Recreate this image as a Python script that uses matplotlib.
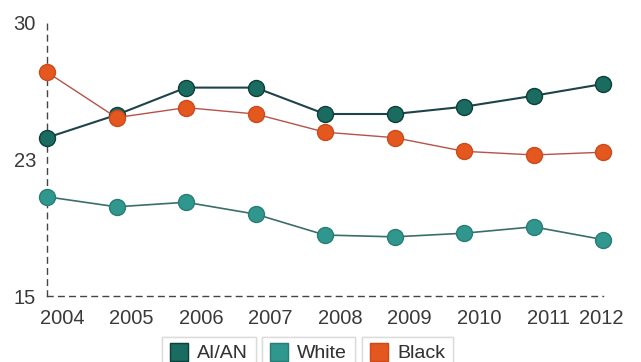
import matplotlib
matplotlib.use("Agg")
import matplotlib.pyplot as plt
import matplotlib.transforms as mtransforms
from matplotlib.lines import Line2D

years = [2004, 2005, 2006, 2007, 2008, 2009, 2010, 2011, 2012]
aian = [23.7, 24.95, 26.45, 26.45, 25.0, 25.0, 25.4, 26.0, 26.65]
white = [20.45, 19.9, 20.15, 19.5, 18.35, 18.25, 18.45, 18.8, 18.1]
black = [27.3, 24.8, 25.35, 25.0, 24.0, 23.7, 22.95, 22.75, 22.9]
ytick_vals = [15, 22.5, 30]
ytick_labels = ["15", "23", "30"]

plt.rcParams['font.family'] = ['Liberation Sans', 'DejaVu Sans']

fig = plt.figure(figsize=(6.41, 3.62), dpi=100)
ax = fig.add_axes([47 / 641, 66 / 362, 556 / 641, 273 / 362])

series = [
    ("AI/AN", aian, "#1a6b60", "#0f3f3a", "#1d4448", 1.5),
    ("White", white, "#2f978d", "#2a7d75", "#3b6e6b", 1.2),
    ("Black", black, "#e4571f", "#cc4a1c", "#b5534a", 1.0),
]
# draw white first so the others sit on top like the original
for name, vals, face, edge, lc, lw in [series[1], series[0], series[2]]:
    ax.plot(years, vals, color=lc, lw=lw, marker="o", markersize=11.5,
            markerfacecolor=face, markeredgecolor=edge, markeredgewidth=1.0,
            clip_on=False, zorder=3)

ax.set_xlim(2004, 2012)
ax.set_ylim(15, 30)
ax.set_yticks(ytick_vals)
ax.set_yticklabels(ytick_labels)
ax.set_xticks(years)
ax.set_xticklabels([str(y) for y in years])
ax.tick_params(length=0, labelsize=14.5, colors="#3a3a3a")
ax.tick_params(axis="y", pad=8)
ax.tick_params(axis="x", pad=9)

# year labels sit a bit to the right of their points, except the last one
for i, lab in enumerate(ax.get_xticklabels()):
    dx = 15 if i < len(years) - 1 else -2
    lab.set_transform(lab.get_transform() +
                      mtransforms.ScaledTranslation(dx / 100, 0, fig.dpi_scale_trans))

for s in ["top", "right"]:
    ax.spines[s].set_visible(False)
for s in ["left", "bottom"]:
    ax.spines[s].set_linestyle((0, (4, 4)))
    ax.spines[s].set_color("#444444")
    ax.spines[s].set_linewidth(1.0)

# one framed box per legend entry
x_pos = [162, 262, 362]
for (name, vals, face, edge, lc, lw), xp in zip(series, x_pos):
    h = Line2D([], [], marker="s", linestyle="none", markersize=13,
               markerfacecolor=face, markeredgecolor=edge)
    leg = fig.legend([h], [name], loc="upper left",
                     bbox_to_anchor=(xp / 641, 1 - 337 / 362),
                     fontsize=14, frameon=True, fancybox=False,
                     handlelength=0.9, handletextpad=0.5,
                     borderpad=0.4, borderaxespad=0)
    leg.get_frame().set_edgecolor("#d8d8d8")
    leg.get_frame().set_linewidth(1.0)
    for t in leg.get_texts():
        t.set_color("#333333")
    fig.add_artist(leg)

fig.savefig("out.png", dpi=100)
